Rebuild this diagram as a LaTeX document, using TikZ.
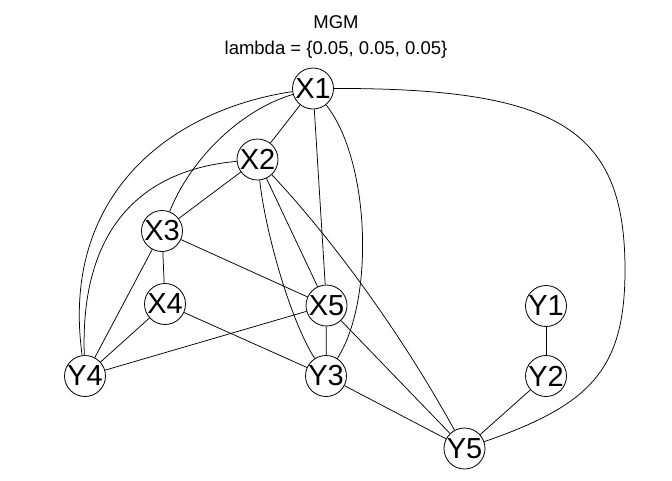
\documentclass[tikz,border=0pt]{standalone}
\usepackage{fontspec}
\setmainfont{Liberation Sans}
\begin{document}
\begin{tikzpicture}[x=1pt,y=-1pt,
  vnode/.style={circle,draw,fill=white,line width=0.8pt,minimum size=41pt,inner sep=0pt,font=\fontsize{29}{29}\selectfont},
  edge/.style={line width=0.75pt},
  ttl/.style={anchor=base,font=\fontsize{18.5}{18.5}\selectfont,inner sep=0pt}]
\useasboundingbox (0,0) rectangle (672,480);
\node[ttl] (t1) at (336,28.3) {MGM};
\node[ttl] (t2) at (336,54) {lambda = \{0.05, 0.05, 0.05\}};
\node[vnode] (X1) at (313,88.5) {X1};
\node[vnode] (X2) at (257.5,159.5) {X2};
\node[vnode] (X3) at (162,231) {X3};
\node[vnode] (X4) at (165,304) {X4};
\node[vnode] (X5) at (326.5,305.5) {X5};
\node[vnode] (Y4) at (85,376) {Y4};
\node[vnode] (Y3) at (326,376) {Y3};
\node[vnode] (Y5) at (464.5,448.5) {Y5};
\node[vnode] (Y1) at (546,306) {Y1};
\node[vnode] (Y2) at (546,376) {Y2};
\coordinate (R) at (625,270);
% edges
\draw[edge] (X1) -- (X2);
\draw[edge] (X1) .. controls (240,110) and (190,160) .. (X3);
\draw[edge] (X1) .. controls (170,110) and (60,195) .. (Y4);
\draw[edge] (X1) -- (X5);
\draw[edge] (X1) .. controls (370,160) and (375,300) .. (Y3);
\draw[edge] (X1) .. controls (560,88) and (625,130) .. (R) .. controls (625,370) and (590,405) .. (Y5);
\draw[edge] (X2) -- (X3);
\draw[edge] (X2) .. controls (140,170) and (80,230) .. (Y4);
\draw[edge] (X2) -- (X5);
\draw[edge] (X2) .. controls (265,230) and (290,320) .. (Y3);
\draw[edge] (X2) .. controls (336,243) and (405,340) .. (Y5);
\draw[edge] (X3) -- (X4);
\draw[edge] (X3) -- (Y4);
\draw[edge] (X3) -- (X5);
\draw[edge] (X4) -- (Y4);
\draw[edge] (X4) -- (Y3);
\draw[edge] (X5) -- (Y4);
\draw[edge] (X5) -- (Y3);
\draw[edge] (X5) -- (Y5);
\draw[edge] (Y3) -- (Y5);
\draw[edge] (Y1) -- (Y2);
\draw[edge] (Y2) -- (Y5);
\end{tikzpicture}
\end{document}
